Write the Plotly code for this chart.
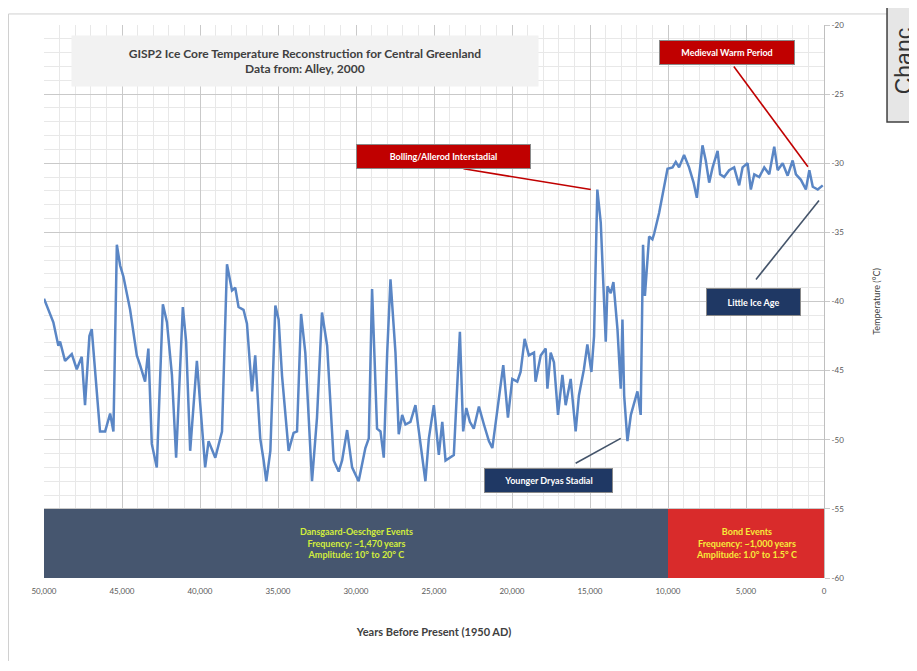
import plotly.graph_objects as go

# ---- data ----
years_kbp = [50.0, 49.40, 49.08, 48.97, 48.65, 48.22, 47.90, 47.58, 47.37, 47.09, 46.94, 46.73, 46.41,
             46.08, 45.76, 45.55, 45.33, 45.12, 44.91, 44.48, 44.05, 43.84, 43.52, 43.31, 43.09, 42.77,
             42.55, 42.38, 42.12, 41.80, 41.53, 41.10, 40.89, 40.63, 40.20, 39.67, 39.45, 39.02, 38.59,
             38.27, 37.95, 37.74, 37.53, 37.21, 36.99, 36.67, 36.46, 36.14, 35.92, 35.75, 35.49, 35.17,
             34.96, 34.74, 34.32, 34.00, 33.78, 33.52, 33.25, 32.82, 32.50, 32.18, 31.85, 31.43, 31.11,
             30.89, 30.57, 30.25, 29.83, 29.40, 29.18, 28.97, 28.65, 28.43, 28.22, 28.00, 27.79, 27.47,
             27.26, 27.04, 26.83, 26.51, 26.19, 25.87, 25.55, 25.33, 25.01, 24.69, 24.47, 24.26, 23.73,
             23.34, 23.13, 22.93, 22.70, 22.45, 22.12, 21.80, 21.48, 21.26, 20.84, 20.56, 20.26, 19.98,
             19.66, 19.45, 19.19, 18.92, 18.59, 18.49, 18.16, 17.84, 17.73, 17.52, 17.31, 17.05, 16.77,
             16.56, 16.24, 15.92, 15.71, 15.39, 15.17, 14.91, 14.74, 14.53, 14.31, 14.14, 13.99, 13.88,
             13.67, 13.50, 13.24, 13.03, 12.92, 12.81, 12.60, 12.38, 11.96, 11.75, 11.60, 11.48, 11.21,
             11.00, 10.89, 10.57, 10.35, 10.14, 10.03, 9.71, 9.50, 9.29, 8.97, 8.65, 8.36, 8.15, 8.00,
             7.79, 7.58, 7.36, 7.14, 6.82, 6.66, 6.40, 6.08, 5.76, 5.44, 5.22, 4.90, 4.69, 4.47, 4.15,
             3.83, 3.51, 3.19, 2.97, 2.65, 2.33, 2.01, 1.80, 1.48, 1.16, 0.94, 0.72, 0.40, 0.08]
temp_c = [-39.8, -41.5, -43.2, -42.9, -44.3, -43.8, -44.9, -44.0, -47.5, -42.5, -42.0, -45.1, -49.4,
          -49.4, -48.1, -49.4, -35.9, -37.4, -38.2, -40.6, -43.9, -44.6, -45.8, -43.4, -50.3, -52.0,
          -44.6, -40.2, -41.5, -45.3, -51.3, -40.4, -42.9, -50.8, -44.3, -52.0, -50.1, -51.3, -49.4,
          -37.3, -39.2, -39.0, -40.4, -40.6, -41.6, -46.5, -43.9, -49.9, -51.5, -53.0, -50.8, -40.3,
          -41.3, -45.4, -50.8, -49.5, -49.4, -40.9, -43.7, -53.0, -48.4, -40.8, -43.2, -51.5, -52.3,
          -51.5, -49.3, -52.0, -53.0, -50.6, -49.9, -39.1, -49.2, -49.4, -51.3, -43.7, -38.4, -43.7,
          -49.6, -48.2, -48.9, -48.7, -47.5, -50.3, -53.0, -49.9, -47.5, -51.1, -48.7, -51.5, -51.1,
          -42.2, -49.4, -47.7, -48.7, -49.2, -47.6, -48.9, -50.1, -50.6, -46.8, -44.6, -48.4, -45.6,
          -45.8, -45.1, -42.7, -43.9, -43.7, -45.8, -43.9, -43.4, -46.3, -43.7, -44.4, -48.2, -45.3,
          -47.5, -45.6, -49.4, -46.8, -44.9, -43.1, -45.1, -42.5, -31.9, -34.3, -38.9, -42.9, -38.9,
          -39.4, -38.6, -42.0, -46.3, -41.3, -46.8, -50.1, -48.2, -46.5, -48.2, -35.9, -39.6, -35.3,
          -35.5, -35.1, -33.6, -32.4, -31.0, -30.4, -30.3, -29.9, -30.3, -29.4, -30.3, -31.4, -32.5, -30.8,
          -28.7, -29.8, -31.4, -30.3, -29.1, -30.8, -31.0, -30.5, -30.3, -31.6, -30.3, -30.0, -31.9,
          -30.8, -31.0, -30.3, -30.8, -28.8, -30.5, -30.0, -30.9, -29.8, -30.8, -31.2, -31.9, -30.5,
          -31.7, -31.9, -31.6]
years_bp = [round(k * 1000) for k in years_kbp]

x_tick_vals = [50000, 45000, 40000, 35000, 30000, 25000, 20000, 15000, 10000, 5000, 0]
x_tick_text = ["50,000", "45,000", "40,000", "35,000", "30,000", "25,000", "20,000",
               "15,000", "10,000", "5,000", "0"]
y_tick_vals = [-20, -25, -30, -35, -40, -45, -50, -55, -60]
y_tick_text = ["-20", "-25", "-30", "-35", "-40", "-45", "-50", "-55", "-60"]

# event bands (years BP, temperature band)
do_band = (50000, 10000)
bond_band = (10000, 0)
band_temp = (-60, -55)

FONT = "Lato, 'Open Sans', sans-serif"

fig = go.Figure()
fig.add_trace(go.Scatter(x=years_bp, y=temp_c, mode="lines",
                         line=dict(color="#5a86c5", width=2.5), hoverinfo="skip",
                         showlegend=False))

# bottom event bands
fig.add_shape(type="rect", xref="x", yref="y", x0=do_band[0], x1=do_band[1],
              y0=band_temp[0], y1=band_temp[1], fillcolor="#46566f",
              line=dict(width=0), layer="above")
fig.add_shape(type="rect", xref="x", yref="y", x0=bond_band[0], x1=bond_band[1],
              y0=band_temp[0], y1=band_temp[1], fillcolor="#d92b2b",
              line=dict(width=0), layer="above")
fig.add_annotation(x=(do_band[0] + do_band[1]) / 2, y=sum(band_temp) / 2, xref="x", yref="y",
                   text="<b>Dansgaard-Oeschger Events<br>Frequency: ~1,470 years<br>Amplitude: 10° to 20° C</b>",
                   showarrow=False, font=dict(family=FONT, size=9, color="#d3ee3c"), align="center")
fig.add_annotation(x=(bond_band[0] + bond_band[1]) / 2, y=sum(band_temp) / 2, xref="x", yref="y",
                   text="<b>Bond Events<br>Frequency: ~1,000 years<br>Amplitude: 1.0° to 1.5° C</b>",
                   showarrow=False, font=dict(family=FONT, size=9, color="#f7ec3a"), align="center")

# callout connector lines
connectors = [
    (5780, -23.0, 1030, -30.25, "#c00000"),
    (23110, -30.4, 14950, -31.9, "#c00000"),
    (4360, -38.4, 320, -32.7, "#44546a"),
    (15920, -51.7, 13030, -49.9, "#44546a"),
]
for x0, y0, x1, y1, c in connectors:
    fig.add_shape(type="line", xref="x", yref="y", x0=x0, y0=y0, x1=x1, y1=y1,
                  line=dict(color=c, width=1.6))

# callout boxes
callouts = [
    ("Medieval Warm Period", 6230, -21.97, 134, 23, "#c00000"),
    ("Bolling/Allerod Interstadial", 24420, -29.5, 173, 23, "#c00000"),
    ("Little Ice Age", 4520, -40.0, 93, 26, "#1f3864"),
    ("Younger Dryas Stadial", 17680, -52.94, 127, 23, "#1f3864"),
]
for txt, x, y, w, h, c in callouts:
    fig.add_annotation(x=x, y=y, xref="x", yref="y", text="<b>" + txt + "</b>",
                       showarrow=False, width=w, height=h, bgcolor=c, bordercolor="#8a8a8a",
                       borderwidth=1, borderpad=0,
                       font=dict(family=FONT, size=9, color="white"))

# title box
fig.add_annotation(x=33250, y=-22.58, xref="x", yref="y",
                   text="<b>GISP2 Ice Core Temperature Reconstruction for Central Greenland<br>Data from: Alley, 2000</b>",
                   showarrow=False, width=466, height=50, bgcolor="#f2f2f2", borderpad=0,
                   font=dict(family=FONT, size=12, color="#404040"), align="center")

# outer frame (left and top edges) & cropped neighbouring element
fig.add_shape(type="line", xref="paper", yref="paper", x0=-0.0455, x1=-0.0455, y0=-0.15, y1=1.02,
              line=dict(color="#d0d0d0", width=1))
fig.add_shape(type="line", xref="paper", yref="paper", x0=-0.0455, x1=1.09, y0=1.02, y1=1.02,
              line=dict(color="#d0d0d0", width=1))
fig.add_shape(type="rect", xref="paper", yref="paper", x0=1.0808, x1=1.2, y0=0.8244, y1=1.05,
              line=dict(color="#404040", width=1.5), fillcolor="#e6e6e6")
fig.add_annotation(xref="paper", yref="paper", x=1.103, y=0.935,
                   text="Chanc", textangle=-90, showarrow=False, xanchor="center", yanchor="middle",
                   font=dict(family="Liberation Sans, Arial, sans-serif", size=23, color="#333333"))

fig.update_xaxes(range=[50000, 0], tickvals=x_tick_vals, ticktext=x_tick_text,
                 showgrid=True, gridcolor="#c9c9c9", gridwidth=1,
                 minor=dict(dtick=1000, showgrid=True, gridcolor="#e8e8e8", gridwidth=1),
                 showline=False, zeroline=False, ticks="", ticklabelstandoff=7,
                 tickfont=dict(family=FONT, size=8, color="#595959"),
                 title=dict(text="<b>Years Before Present (1950 AD)</b>", standoff=33,
                            font=dict(family=FONT, size=11, color="#404040")))
fig.update_yaxes(range=[-60, -20], side="right", tickvals=y_tick_vals, ticktext=y_tick_text,
                 showgrid=True, gridcolor="#c9c9c9", gridwidth=1,
                 minor=dict(dtick=1, showgrid=True, gridcolor="#e8e8e8", gridwidth=1),
                 showline=True, linecolor="#bfbfbf", linewidth=1, zeroline=False,
                 ticks="outside", ticklen=5, tickcolor="#c9c9c9",
                 tickfont=dict(family=FONT, size=8, color="#595959"),
                 title=dict(text="Temperature (°C)", standoff=30,
                            font=dict(family=FONT, size=9, color="#404040")))

# page body adds an 8px offset; size the figure so the plot area lands where the reference has it
fig.update_layout(width=909, height=663, margin=dict(l=36, r=93, t=12, b=93),
                  paper_bgcolor="white", plot_bgcolor="white", showlegend=False)

fig.write_html("out.html")
